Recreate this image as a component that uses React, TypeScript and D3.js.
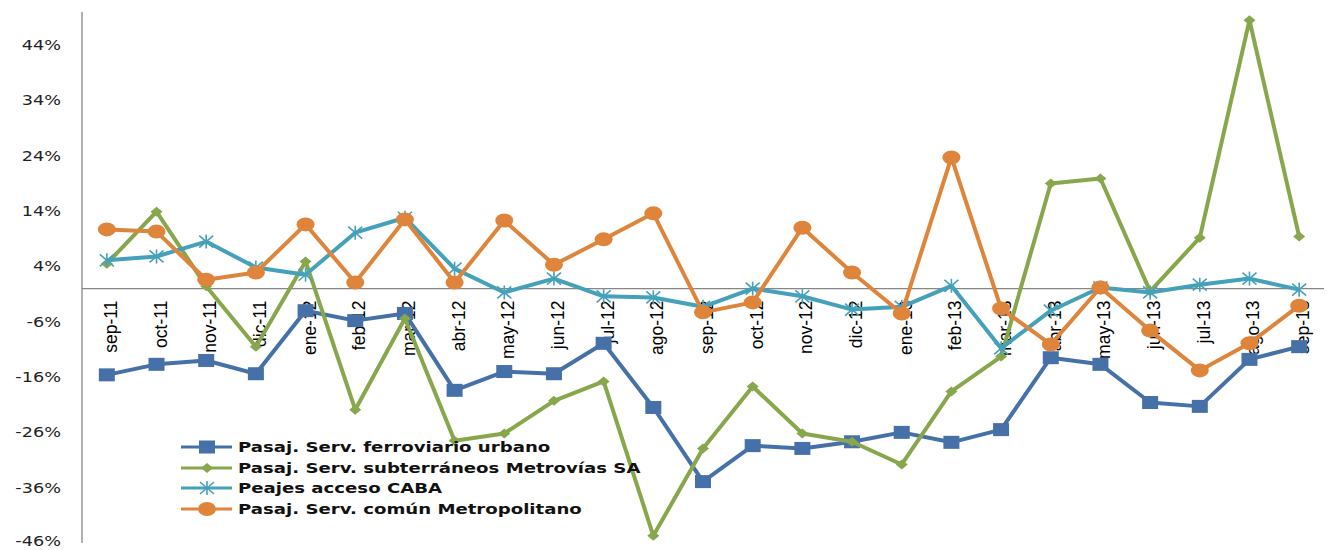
import React from "react";
import * as d3 from "d3";

const categories = ["sep-11","oct-11","nov-11","dic-11","ene-12","feb-12","mar-12","abr-12","may-12","jun-12","jul-12","ago-12","sep-12","oct-12","nov-12","dic-12","ene-13","feb-13","mar-13","abr-13","may-13","jun-13","jul-13","ago-13","sep-13"];

const ferroviario = [-15.6,-13.7,-13.0,-15.4,-4.0,-5.8,-4.5,-18.4,-15.0,-15.4,-9.9,-21.5,-34.9,-28.4,-28.9,-27.7,-26.0,-27.8,-25.5,-12.5,-13.7,-20.6,-21.3,-12.8,-10.5];
const subterraneos = [4.5,13.9,0.4,-10.5,4.9,-21.9,-5.4,-27.5,-26.2,-20.3,-16.8,-44.7,-28.9,-17.7,-26.2,-27.7,-31.8,-18.6,-12.3,19.0,19.9,-0.5,9.2,48.5,9.4];
const peajes = [5.1,5.8,8.5,3.8,2.5,10.1,12.8,3.6,-0.7,1.8,-1.4,-1.6,-3.3,0.0,-1.4,-3.8,-3.3,0.5,-10.8,-4.0,0.2,-0.7,0.7,1.8,-0.2];
const comun = [10.7,10.3,1.6,2.9,11.6,1.1,12.5,1.1,12.3,4.3,8.9,13.6,-4.3,-2.5,11.0,2.9,-4.5,23.7,-3.6,-10.1,0.2,-7.6,-14.8,-9.9,-3.1];

const yTicks = [44,34,24,14,4,-6,-16,-26,-36,-46];

const seriesNames = [
  "Pasaj. Serv. ferroviario urbano",
  "Pasaj. Serv. subterráneos Metrovías SA",
  "Peajes acceso CABA",
  "Pasaj. Serv. común Metropolitano",
];

const W = 1327, H = 550;
const plotLeft = 82, plotRight = 1324, plotTop = 12, plotBottom = 543;

const colors = ["#4671A8", "#88A64B", "#45A1B9", "#DF843B"];
const markerTypes = ["square", "diamond", "star", "circle"];

function Marker({ type, x, y, color }: { type: string; x: number; y: number; color: string }) {
  if (type === "square") return <rect x={x - 8} y={y - 6.5} width={16} height={13} fill={color} />;
  if (type === "diamond") return <path d={`M${x},${y - 5} L${x + 6},${y} L${x},${y + 5} L${x - 6},${y} Z`} fill={color} />;
  if (type === "circle") return <ellipse cx={x} cy={y} rx={9} ry={7} fill={color} />;
  return (
    <g stroke={color} strokeWidth={1.6}>
      <line x1={x - 7} y1={y - 6} x2={x + 7} y2={y + 6} />
      <line x1={x - 7} y1={y + 6} x2={x + 7} y2={y - 6} />
      <line x1={x} y1={y - 7} x2={x} y2={y + 7} />
    </g>
  );
}

export default function App() {
  const x = d3.scaleBand<string>().domain(categories).range([plotLeft, plotRight]);
  const y = d3.scaleLinear().domain([-46, 50]).range([plotBottom, plotTop]);
  const cx = (c: string) => (x(c) as number) + x.bandwidth() / 2;
  const data = [ferroviario, subterraneos, peajes, comun];
  const line = d3.line<number>().x((_, i) => cx(categories[i])).y((v) => y(v));
  const yLabX = 61;

  return (
    <svg width={W} height={H} style={{ position: "absolute", left: 0, top: 0, background: "#fff" }}>
      {/* y axis */}
      <line x1={plotLeft} x2={plotLeft} y1={plotTop} y2={plotBottom} stroke="#868686" strokeWidth={1.3} />
      {yTicks.map((t) => (
        <text key={t} x={yLabX} y={Math.min(y(t), 541)} textAnchor="end" dominantBaseline="central"
          fontFamily="DejaVu Sans" fontSize={14.5} fill="#222" transform={`translate(${yLabX},0) scale(1.22,1) translate(${-yLabX},0)`}>
          {t}%
        </text>
      ))}
      {/* zero line */}
      <line x1={plotLeft} x2={plotRight} y1={y(0)} y2={y(0)} stroke="#868686" strokeWidth={1.3} />
      {/* x labels */}
      {categories.map((c) => {
        const px = cx(c) + 4;
        const py = y(0) + 12;
        return (
          <text key={c} x={px} y={py} transform={`rotate(-90,${px},${py})`} textAnchor="end"
            dominantBaseline="central" fontFamily="Liberation Sans Narrow, Arial Narrow, sans-serif" fontSize={17.5} fill="#000">
            {c}
          </text>
        );
      })}
      {/* series */}
      {data.map((s, si) => (
        <g key={si}>
          <path d={line(s) as string} fill="none" stroke={colors[si]} strokeWidth={4} strokeLinejoin="round" />
          {s.map((v, i) => (
            <Marker key={i} type={markerTypes[si]} x={cx(categories[i])} y={y(v)} color={colors[si]} />
          ))}
        </g>
      ))}
      {/* legend */}
      {seriesNames.map((n, i) => {
        const ly = [447, 468, 488, 509][i];
        return (
          <g key={n}>
            <line x1={181} x2={232} y1={ly} y2={ly} stroke={colors[i]} strokeWidth={3} />
            <Marker type={markerTypes[i]} x={207} y={ly} color={colors[i]} />
            <text x={238} y={ly} dominantBaseline="central" fontFamily="DejaVu Sans" fontWeight="bold"
              fontSize={14.5} fill="#111" transform={`translate(238,0) scale(1.25,1) translate(-238,0)`}>
              {n}
            </text>
          </g>
        );
      })}
    </svg>
  );
}
